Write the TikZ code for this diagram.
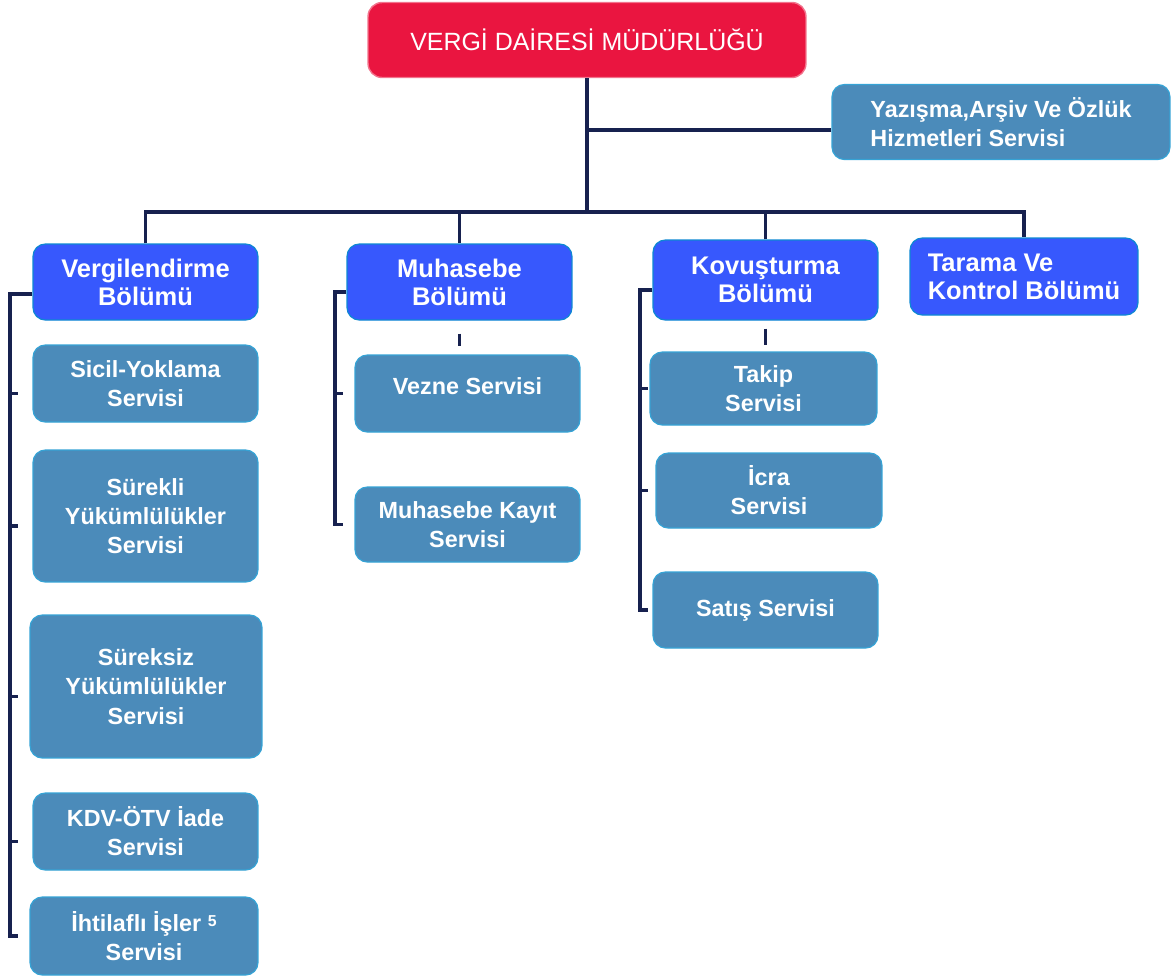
\documentclass[tikz,border=0pt]{standalone}
\usepackage{fontspec}
\setmainfont{Liberation Sans}
\usetikzlibrary{positioning, calc}

\definecolor{titlered}{HTML}{EA1540}
\definecolor{deptblue}{HTML}{3758FD}
\definecolor{servblue}{HTML}{4B8BBA}
\definecolor{linenavy}{HTML}{17214F}

\begin{document}
\begin{tikzpicture}[
        x=0.02cm, y=-0.02cm,
        every node/.style={text=white, inner sep=2pt},
        titlebox/.style={fill=titlered, draw=titlered!60!white, line width=0.8pt, rounded corners=8pt,
            minimum width=8.76cm, minimum height=1.5cm, font=\fontsize{14.2}{16}\selectfont},
        dept/.style={fill=deptblue, draw=cyan!70!blue, line width=0.7pt, rounded corners=7pt,
            minimum width=4.5cm, minimum height=1.52cm, align=center,
            font=\fontsize{14.5}{16}\selectfont\bfseries},
        serv/.style={fill=servblue, draw=cyan!60!servblue, line width=0.7pt, rounded corners=7pt,
            minimum width=4.5cm, minimum height=1.54cm, align=center,
            font=\fontsize{13.3}{16.6}\selectfont\bfseries},
        link/.style={draw=linenavy, line width=2pt}
    ]
        \useasboundingbox (0,0) rectangle (1174,978);

        % --- Müdürlük ---
        \node[titlebox] (title) at (587,40) {VERGİ DAİRESİ MÜDÜRLÜĞÜ};
        \node[serv, minimum width=6.76cm, minimum height=1.5cm, align=left] (yazisma) at (1001,122)
            {Yazışma,Arşiv Ve Özlük\\Hizmetleri Servisi};

        % --- Bölümler ---
        \node[dept] (verg) at (145.5,282) {Vergilendirme\\Bölümü};
        \node[dept] (muh) at (459.5,282) {Muhasebe\\Bölümü};
        \node[dept, minimum height=1.6cm] (kov) at (765.5,280) {Kovuşturma\\Bölümü};
        \node[dept, minimum width=4.56cm, minimum height=1.54cm, align=left] (tarama) at (1024,276.5)
            {Tarama Ve\\Kontrol Bölümü};

        % --- Vergilendirme servisleri ---
        \node[serv] (sicil) at (145.5,383.5) {Sicil-Yoklama\\Servisi};
        \node[serv, minimum height=2.64cm] (surekli) at (145.5,516) {Sürekli\\Yükümlülükler\\Servisi};
        \node[serv, minimum width=4.64cm, minimum height=2.86cm] (sureksiz) at (146,686.5)
            {Süreksiz\\Yükümlülükler\\Servisi};
        \node[serv] (kdv) at (145.5,831.5) {KDV-ÖTV İade\\Servisi};
        \node[serv, minimum width=4.56cm, minimum height=1.56cm] (ihtilaf) at (144,936)
            {İhtilaflı İşler {\small\raisebox{3pt}{5}}\\Servisi};

        % --- Muhasebe servisleri ---
        \node[serv] (vezne) at (467.5,393.5) {Vezne Servisi\\[-8pt]};
        \node[serv, minimum height=1.5cm] (kayit) at (467.5,524.5) {Muhasebe Kayıt\\Servisi};

        % --- Kovuşturma servisleri ---
        \node[serv, minimum width=4.54cm, minimum height=1.46cm] (takip) at (763.5,388.5) {Takip\\Servisi};
        \node[serv, minimum width=4.52cm, minimum height=1.5cm] (icra) at (769,490.5) {İcra\\Servisi};
        \node[serv, minimum height=1.52cm] (satis) at (765.5,610) {Satış Servisi};

        % --- Ana hat ---
        \coordinate (bus) at (590,212);
        \draw[link] (title.south) -- (title.south |- bus);
        \draw[link] ([yshift=-0.16cm]yazisma.west) -- ([yshift=-0.16cm]yazisma.west -| title.south);
        \draw[link] (verg.north) |- (bus) -| (tarama.north);
        \draw[link] (muh.north) -- (muh.north |- bus);
        \draw[link] (kov.north) -- (kov.north |- bus);

        % --- Sol baraj hatları ---
        \coordinate (vbar) at (10,0);
        \coordinate (mbar) at (335,0);
        \coordinate (kbar) at (640,0);

        \draw[link] ([yshift=-0.24cm]verg.west) -| (ihtilaf.west -| vbar) -- ++(8,0);
        \foreach \s in {sicil,surekli,sureksiz,kdv}
            \draw[link] ([yshift=-0.2cm]\s.west -| vbar) -- ++(8,0);

        \draw[link] ([yshift=-0.2cm]muh.west) -| (kayit.west -| mbar) -- ++(8,0);
        \draw[link] (vezne.west -| mbar) -- ++(8,0);
        \draw[link] ($(muh.south)+(0,13)$) -- ($(vezne.north -| muh.south)+(0,-8)$);

        \draw[link] ([yshift=-0.2cm]kov.west) -| (satis.west -| kbar) -- ++(8,0);
        \foreach \s in {takip,icra}
            \draw[link] (\s.west -| kbar) -- ++(8,0);
        \draw[link] ($(kov.south)+(0,8)$) -- ($(takip.north -| kov.south)+(0,-6)$);
\end{tikzpicture}
\end{document}
